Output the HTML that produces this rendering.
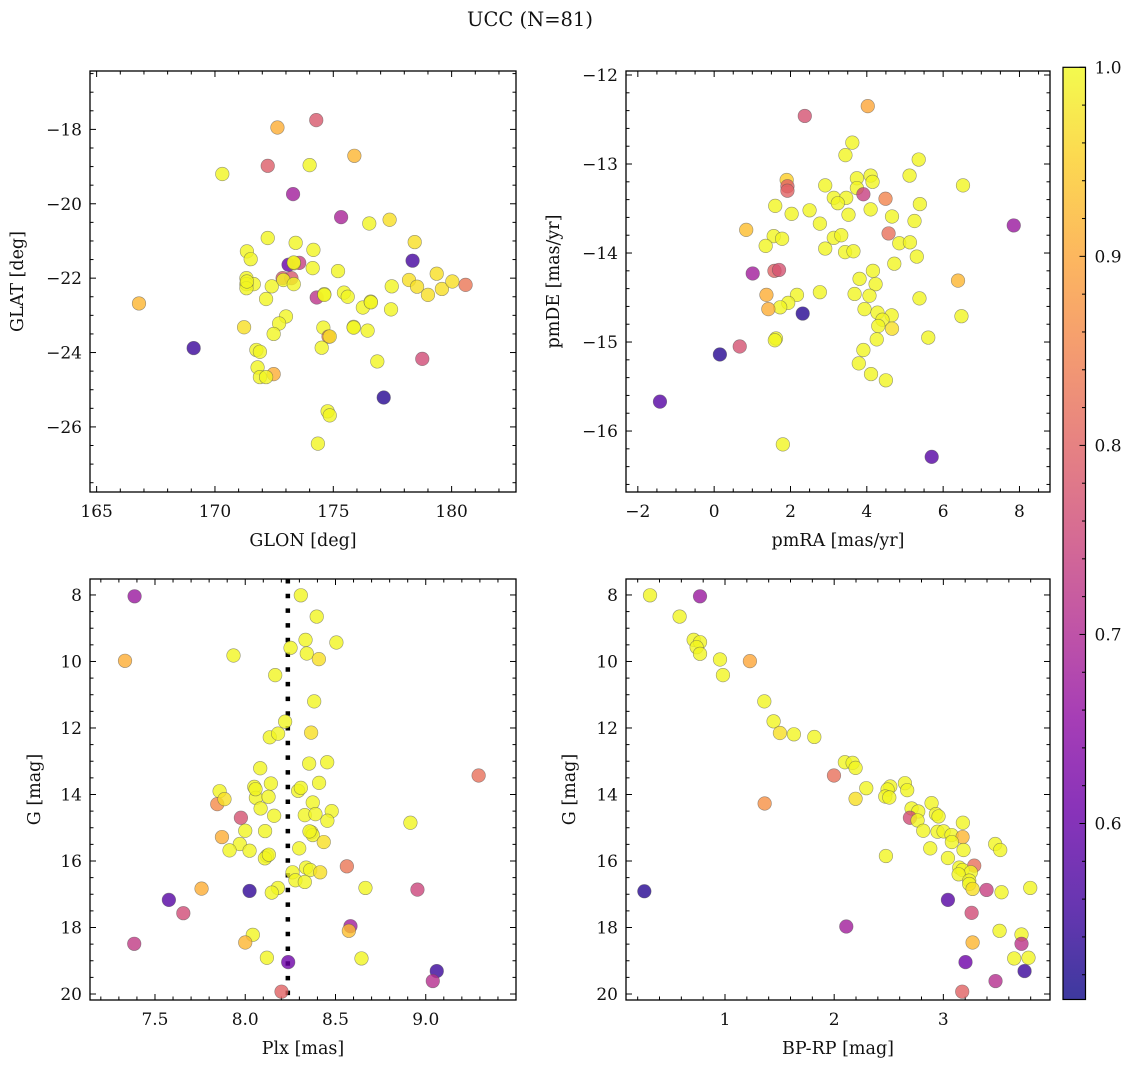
<!DOCTYPE html>
<html><head><meta charset="utf-8">
<style>
html,body{margin:0;padding:0;background:#fff;}
svg{display:block;}
text{font-family:"DejaVu Serif","Liberation Serif",serif;fill:#111;}
</style></head>
<body>
<svg id="fig" width="1136" height="1067" viewBox="0 0 1136 1067" xmlns="http://www.w3.org/2000/svg">
<defs>
<linearGradient id="plasmaGrad" x1="0" y1="1" x2="0" y2="0">
<stop offset="0" stop-color="#0d0887"/><stop offset="0.1" stop-color="#41049d"/><stop offset="0.2" stop-color="#6a00a8"/><stop offset="0.3" stop-color="#8f0da4"/><stop offset="0.4" stop-color="#b12a90"/><stop offset="0.5" stop-color="#cc4778"/><stop offset="0.6" stop-color="#e16462"/><stop offset="0.7" stop-color="#f2844b"/><stop offset="0.8" stop-color="#fca636"/><stop offset="0.9" stop-color="#fcce25"/><stop offset="1" stop-color="#f0f921"/>
</linearGradient>
</defs>
<text x="530" y="26" font-size="19.5" text-anchor="middle">UCC (N=81)</text>
</svg>
<script>
// ---- Panel 1: GLON / GLAT ----
const glon = [166.79,169.10,170.31,172.64,174.28,172.23,174.0,175.89,173.30,175.33,176.52,177.38,178.44,178.35,172.23,173.41,174.16,171.35,171.51,173.11,173.56,173.34,174.13,175.20,171.33,171.64,171.33,171.33,172.40,172.86,173.23,172.89,173.33,172.16,174.30,174.62,175.45,175.61,176.25,176.58,177.44,177.47,178.20,178.54,179.0,179.37,179.59,180.03,180.59,173.0,172.71,171.23,172.48,174.58,174.80,174.85,174.51,175.86,176.45,171.75,171.90,171.80,172.48,171.90,172.16,176.86,178.76,177.13,174.76,174.85,174.35,174.62,171.35,176.59,175.86,173.33];
const glat = [-22.68,-23.88,-19.20,-17.95,-17.75,-18.98,-18.96,-18.71,-19.74,-20.36,-20.53,-20.43,-21.03,-21.53,-20.92,-21.05,-21.24,-21.28,-21.49,-21.64,-21.59,-21.60,-21.73,-21.81,-22.00,-22.16,-22.16,-22.27,-22.22,-22.00,-22.00,-22.05,-22.16,-22.56,-22.52,-22.43,-22.39,-22.50,-22.79,-22.63,-22.84,-22.22,-22.05,-22.23,-22.45,-21.88,-22.29,-22.09,-22.18,-23.03,-23.22,-23.32,-23.50,-23.33,-23.57,-23.57,-23.87,-23.31,-23.41,-23.93,-23.98,-24.40,-24.58,-24.66,-24.66,-24.24,-24.17,-25.21,-25.58,-25.69,-26.45,-22.45,-22.09,-22.65,-23.33,-21.58];
const prob1 = [0.92,0.55,0.995,0.91,0.78,0.79,0.995,0.92,0.68,0.69,0.995,0.97,0.97,0.56,0.995,0.995,0.995,0.995,0.995,0.60,0.74,0.97,0.995,0.995,0.995,0.995,0.995,0.995,0.995,0.78,0.78,0.995,0.995,0.995,0.72,0.995,0.995,0.995,0.995,0.995,0.995,0.995,0.97,0.97,0.97,0.97,0.97,0.97,0.83,0.995,0.995,0.97,0.995,0.995,0.85,0.97,0.995,0.995,0.995,0.995,0.995,0.995,0.91,0.995,0.995,0.995,0.76,0.53,0.995,0.995,0.995,0.995,0.995,0.995,0.995,0.995];
// ---- Panel 2: pmRA / pmDE ----
const pmra = [4.025,2.375,3.62,3.44,5.36,1.90,1.92,1.92,2.91,3.74,4.10,4.15,5.12,6.52,3.74,3.91,3.135,3.46,3.24,4.49,4.10,1.60,2.50,2.03,5.39,3.52,4.66,5.25,2.77,0.84,7.85,4.57,1.56,1.78,3.135,3.33,1.35,2.91,3.43,3.65,4.85,5.13,5.31,4.72,1.01,1.58,1.70,4.16,3.81,4.23,6.39,1.37,2.17,2.77,3.68,4.07,5.38,1.94,1.73,1.42,2.32,3.94,4.28,4.65,4.41,4.30,4.66,6.48,1.62,1.59,4.26,5.61,0.67,0.15,3.91,3.79,4.11,4.50,-1.42,1.80,5.70];
const pmde = [-12.35,-12.46,-12.76,-12.90,-12.95,-13.18,-13.25,-13.30,-13.24,-13.16,-13.13,-13.20,-13.13,-13.24,-13.27,-13.34,-13.38,-13.38,-13.44,-13.39,-13.51,-13.47,-13.52,-13.56,-13.45,-13.57,-13.59,-13.64,-13.67,-13.74,-13.69,-13.78,-13.81,-13.84,-13.83,-13.80,-13.92,-13.95,-13.99,-13.98,-13.89,-13.88,-14.04,-14.12,-14.23,-14.20,-14.19,-14.20,-14.29,-14.35,-14.31,-14.47,-14.47,-14.44,-14.46,-14.48,-14.51,-14.56,-14.61,-14.63,-14.68,-14.63,-14.67,-14.70,-14.75,-14.82,-14.85,-14.71,-14.96,-14.98,-14.97,-14.95,-15.05,-15.14,-15.09,-15.24,-15.36,-15.43,-15.67,-16.15,-16.29];
const prob2 = [0.90,0.77,0.995,0.995,0.995,0.95,0.80,0.80,0.995,0.995,0.995,0.995,0.995,0.995,0.995,0.74,0.995,0.995,0.995,0.85,0.995,0.995,0.995,0.995,0.995,0.995,0.995,0.995,0.995,0.93,0.67,0.82,0.995,0.995,0.995,0.995,0.995,0.995,0.995,0.995,0.995,0.995,0.995,0.995,0.68,0.80,0.77,0.995,0.995,0.995,0.92,0.91,0.995,0.995,0.995,0.995,0.995,0.995,0.995,0.91,0.53,0.995,0.995,0.995,0.995,0.995,0.97,0.995,0.995,0.995,0.995,0.995,0.77,0.53,0.995,0.995,0.995,0.995,0.58,0.995,0.58];
// ---- Panel 3: Plx / G ----
const plx = [7.387,8.308,8.396,7.334,7.935,8.334,8.505,8.251,8.341,8.408,8.166,8.382,8.221,8.136,8.182,8.365,8.083,8.354,8.454,8.142,8.05,8.409,7.858,8.293,8.308,8.059,8.129,7.845,7.885,8.374,8.085,8.479,7.976,8.16,8.33,8.389,8.455,8.915,9.293,8.0,8.11,7.871,8.367,8.374,8.435,7.97,7.913,8.024,8.12,8.109,8.299,8.563,8.337,8.36,8.262,8.415,8.278,8.33,8.666,8.954,7.758,8.024,8.181,8.147,7.577,7.657,8.583,8.574,8.042,8.0,7.385,8.12,8.644,8.238,9.061,9.039,8.201,8.057,8.131,8.356];
const gmag3 = [8.04,8.01,8.65,9.98,9.82,9.35,9.43,9.59,9.76,9.93,10.41,11.20,11.81,12.28,12.17,12.14,13.21,13.07,13.03,13.67,13.77,13.65,13.90,13.89,13.80,14.10,14.07,14.29,14.14,14.24,14.42,14.50,14.70,14.64,14.62,14.59,14.79,14.85,13.43,15.09,15.10,15.28,15.14,15.22,15.43,15.49,15.68,15.69,15.85,15.92,15.62,16.16,16.20,16.27,16.34,16.34,16.58,16.63,16.81,16.86,16.83,16.90,16.81,16.95,17.17,17.57,17.96,18.10,18.22,18.45,18.49,18.91,18.93,19.04,19.31,19.61,19.93,13.84,15.81,15.11];
const prob3 = [0.67,0.995,0.995,0.91,0.995,0.995,0.995,0.995,0.995,0.97,0.995,0.995,0.995,0.995,0.995,0.97,0.995,0.995,0.995,0.995,0.995,0.995,0.995,0.995,0.995,0.995,0.995,0.86,0.97,0.995,0.995,0.995,0.77,0.995,0.995,0.995,0.995,0.995,0.82,0.995,0.995,0.91,0.995,0.995,0.97,0.995,0.995,0.995,0.995,0.995,0.995,0.83,0.995,0.995,0.995,0.97,0.995,0.995,0.995,0.75,0.91,0.54,0.995,0.995,0.58,0.76,0.68,0.93,0.995,0.92,0.73,0.995,0.995,0.61,0.55,0.71,0.80,0.995,0.995,0.995];
const plxMean = [8.236];
// ---- Panel 4: BP-RP / G ----
const bprp = [0.313,0.771,0.584,0.713,0.771,0.740,0.771,0.954,1.228,0.981,1.36,1.445,1.503,1.631,1.818,2.098,2.169,2.196,1.998,2.294,2.514,2.489,2.648,2.669,1.363,2.196,2.468,2.505,2.892,2.709,2.77,2.694,2.764,2.932,2.956,3.179,2.816,2.947,3.002,3.075,3.176,3.078,3.475,3.521,2.88,3.185,2.474,3.042,3.283,3.146,3.176,3.252,3.14,3.237,3.237,3.268,3.396,3.533,3.796,0.261,3.042,3.259,2.111,3.515,3.268,3.716,3.716,3.649,3.78,3.203,3.744,3.478,3.173];
const gmag4 = [8.01,8.04,8.65,9.35,9.42,9.57,9.77,9.94,9.99,10.41,11.20,11.80,12.15,12.19,12.27,13.03,13.05,13.20,13.43,13.81,13.76,13.85,13.66,13.87,14.27,14.13,14.06,14.09,14.26,14.42,14.51,14.70,14.78,14.59,14.66,14.85,15.09,15.12,15.11,15.22,15.28,15.43,15.49,15.67,15.62,15.67,15.85,15.91,16.14,16.20,16.27,16.34,16.40,16.59,16.69,16.84,16.87,16.94,16.81,16.91,17.17,17.56,17.97,18.10,18.45,18.21,18.49,18.93,18.91,19.04,19.31,19.61,19.93];
const prob4 = [0.995,0.67,0.995,0.995,0.995,0.995,0.995,0.995,0.90,0.995,0.995,0.995,0.97,0.995,0.995,0.995,0.995,0.995,0.82,0.995,0.995,0.995,0.995,0.995,0.87,0.97,0.995,0.995,0.995,0.995,0.995,0.76,0.995,0.995,0.995,0.995,0.995,0.995,0.995,0.995,0.92,0.995,0.995,0.995,0.995,0.995,0.995,0.995,0.82,0.995,0.995,0.995,0.995,0.995,0.995,0.97,0.74,0.995,0.995,0.53,0.58,0.76,0.68,0.995,0.92,0.995,0.72,0.995,0.995,0.61,0.55,0.71,0.80];
// ---- Tick labels ----
const p1xTicks = [165,170,175,180];
const p1yTicks = [-26,-24,-22,-20,-18];
const p2xTicks = [-2,0,2,4,6,8];
const p2yTicks = [-16,-15,-14,-13,-12];
const p3xTicks = [7.5,8.0,8.5,9.0];
const gTicks = [8,10,12,14,16,18,20];
const p4xTicks = [1,2,3];
const cbTicks = [0.6,0.7,0.8,0.9,1.0];
const cbRange = [0.5069,1.0];

const NS = "http://www.w3.org/2000/svg";
const svg = document.getElementById('fig');
const plasma = ["#0d0887","#41049d","#6a00a8","#8f0da4","#b12a90","#cc4778","#e16462","#f2844b","#fca636","#fcce25","#f0f921"];
const FS = 17, FSL = 17.5;
function hex(h){return [parseInt(h.substr(1,2),16),parseInt(h.substr(3,2),16),parseInt(h.substr(5,2),16)];}
function cmap(p){
  let t=(p-cbRange[0])/(cbRange[1]-cbRange[0]); t=Math.max(0,Math.min(1,t));
  const f=t*10, i=Math.min(9,Math.floor(f)), r=f-i;
  const a=hex(plasma[i]), b=hex(plasma[i+1]);
  return 'rgb('+a.map((v,k)=>Math.round(v+(b[k]-v)*r)).join(',')+')';
}
function mk(tag, attrs, parent){
  const e=document.createElementNS(NS,tag);
  for(const k in attrs) e.setAttribute(k,attrs[k]);
  (parent||svg).appendChild(e); return e;
}
function fmt(v,dec){ const s=v.toFixed(dec); return s.replace('-','\u2212'); }

function panel(cfg){
  const g=mk('g',{});
  
  
  const sx=v=>cfg.x0+(v-cfg.xr[0])/(cfg.xr[1]-cfg.xr[0])*(cfg.x1-cfg.x0);
  const sy=cfg.inv ? (v=>cfg.y0+(v-cfg.yr[0])/(cfg.yr[1]-cfg.yr[0])*(cfg.y1-cfg.y0))
                   : (v=>cfg.y1-(v-cfg.yr[0])/(cfg.yr[1]-cfg.yr[0])*(cfg.y1-cfg.y0));
  const lo=Math.min(cfg.xr[0],cfg.xr[1]), hi=Math.max(cfg.xr[0],cfg.xr[1]);
  for(let v=Math.ceil(lo/cfg.xminor-1e-9)*cfg.xminor; v<=hi+1e-9; v+=cfg.xminor){
    const major=Math.abs(Math.round(v/cfg.xmajor)*cfg.xmajor-v)<1e-6;
    const L=major?6:3.5, x=sx(v);
    const t1=mk('line',{x1:x,x2:x,y1:cfg.y1,y2:cfg.y1-L,stroke:'#000','stroke-width':1},g);
    
    
    const t2=mk('line',{x1:x,x2:x,y1:cfg.y0,y2:cfg.y0+L,stroke:'#000','stroke-width':1},g);
    
    
  }
  const ylo=Math.min(cfg.yr[0],cfg.yr[1]), yhi=Math.max(cfg.yr[0],cfg.yr[1]);
  for(let v=Math.ceil(ylo/cfg.yminor-1e-9)*cfg.yminor; v<=yhi+1e-9; v+=cfg.yminor){
    const major=Math.abs(Math.round(v/cfg.ymajor)*cfg.ymajor-v)<1e-6;
    const L=major?6:3.5, y=sy(v);
    const t1=mk('line',{x1:cfg.x0,x2:cfg.x0+L,y1:y,y2:y,stroke:'#000','stroke-width':1},g);
    
    
    const t2=mk('line',{x1:cfg.x1,x2:cfg.x1-L,y1:y,y2:y,stroke:'#000','stroke-width':1},g);
    
    
  }
  cfg.xt.forEach(v=>{
    const t=mk('text',{x:sx(v),y:cfg.y1+25,'font-size':FS,'text-anchor':'middle'},g);
    t.textContent=fmt(v,cfg.xdec);
    
    
  });
  cfg.yt.forEach(v=>{
    const t=mk('text',{x:cfg.x0-8,y:sy(v)+6,'font-size':FS,'text-anchor':'end'},g);
    t.textContent=fmt(v,0);
    
    
  });
  const xl=mk('text',{x:(cfg.x0+cfg.x1)/2,y:cfg.y1+54,'font-size':FSL,'text-anchor':'middle'},g);
  xl.textContent=cfg.xlabel;
  
  
  const yc=(cfg.y0+cfg.y1)/2;
  const yl=mk('text',{x:cfg.ylx,y:yc,'font-size':FSL,'text-anchor':'middle',transform:'rotate(-90 '+cfg.ylx+' '+yc+')'},g);
  yl.textContent=cfg.ylabel;
  
  
  const cid='clip-'+cfg.name;
  const cp=mk('clipPath',{id:cid},g);
  mk('rect',{x:cfg.x0,y:cfg.y0,width:cfg.x1-cfg.x0,height:cfg.y1-cfg.y0},cp);
  const pg=mk('g',{'clip-path':'url(#'+cid+')'},g);
  if(cfg.vline){
    const vl=mk('line',{x1:sx(cfg.vline[0]),x2:sx(cfg.vline[0]),y1:cfg.y0,y2:cfg.y1,stroke:'#000','stroke-width':4.5,'stroke-dasharray':'4.5 10.2'},pg);
    
    
  }
  for(let i=0;i<cfg.xs.length;i++){
    const c=mk('circle',{cx:sx(cfg.xs[i]),cy:sy(cfg.ys[i]),r:6.8,fill:cmap(cfg.ps[i]),'fill-opacity':0.8,stroke:'#555','stroke-width':0.6,'stroke-opacity':0.6},pg);
    
    
  }
  const fr=mk('rect',{x:cfg.x0,y:cfg.y0,width:cfg.x1-cfg.x0,height:cfg.y1-cfg.y0,fill:'none',stroke:'#000','stroke-width':1.3},g);
  
  
}

panel({name:'glon-glat-panel',x0:90,x1:516,y0:71,y1:492,xr:[164.72,182.72],yr:[-27.75,-16.43],xt:p1xTicks,yt:p1yTicks,xmajor:5,xminor:1,ymajor:2,yminor:0.5,xdec:0,xlabel:'GLON [deg]',ylabel:'GLAT [deg]',ylx:23,xs:glon,ys:glat,ps:prob1});
panel({name:'pm-panel',x0:626,x1:1050,y0:71,y1:492,xr:[-2.31,8.80],yr:[-16.685,-11.955],xt:p2xTicks,yt:p2yTicks,xmajor:2,xminor:0.5,ymajor:1,yminor:0.2,xdec:0,xlabel:'pmRA [mas/yr]',ylabel:'pmDE [mas/yr]',ylx:559,xs:pmra,ys:pmde,ps:prob2});
panel({name:'plx-g-panel',x0:90,x1:516,y0:579,y1:1000,xr:[7.14,9.50],yr:[7.52,20.18],inv:true,xt:p3xTicks,yt:gTicks,xmajor:0.5,xminor:0.1,ymajor:2,yminor:0.5,xdec:1,xlabel:'Plx [mas]',ylabel:'G [mag]',ylx:40,xs:plx,ys:gmag3,ps:prob3,vline:plxMean});
panel({name:'cmd-panel',x0:626,x1:1050,y0:579,y1:1000,xr:[0.093,3.977],yr:[7.52,20.18],inv:true,xt:p4xTicks,yt:gTicks,xmajor:1,xminor:0.2,ymajor:2,yminor:0.5,xdec:0,xlabel:'BP-RP [mag]',ylabel:'G [mag]',ylx:575,xs:bprp,ys:gmag4,ps:prob4});

const cb=mk('g',{});


const cbx0=1063, cbx1=1085.5, cby0=67.3, cby1=999.5;
mk('rect',{x:cbx0,y:cby0,width:cbx1-cbx0,height:cby1-cby0,fill:'url(#plasmaGrad)','fill-opacity':0.8},cb);
const cy=v=>cby1-(v-cbRange[0])/(cbRange[1]-cbRange[0])*(cby1-cby0);
for(let k=Math.ceil(cbRange[0]*50-1e-9);k<=50;k++){
  const v=k/50, y=cy(v), major=(k%5===0);
  const tk=mk('line',{x1:cbx1,x2:cbx1-(major?6:3.5),y1:y,y2:y,stroke:'#000','stroke-width':1},cb);
  
  
}
cbTicks.forEach(v=>{
  const t=mk('text',{x:cbx1+9,y:cy(v)+6,'font-size':FS},cb);
  t.textContent=v.toFixed(1);
  
  
});
mk('rect',{x:cbx0,y:cby0,width:cbx1-cbx0,height:cby1-cby0,fill:'none',stroke:'#000','stroke-width':1.2},cb);
</script>
</body></html>
